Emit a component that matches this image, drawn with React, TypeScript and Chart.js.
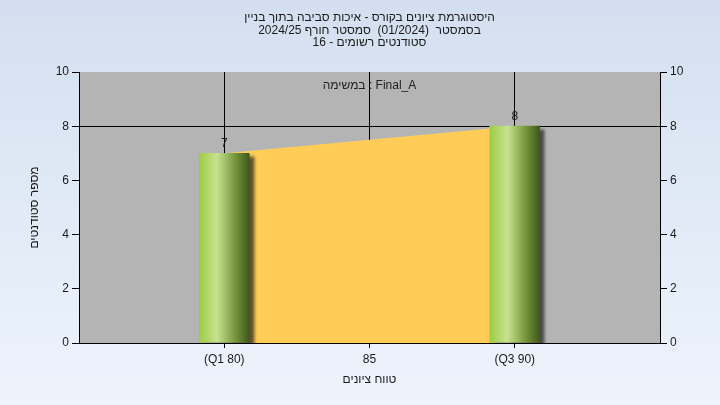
import React, { useEffect, useRef } from "react";
import { Chart, registerables } from "chart.js";

Chart.register(...registerables);

const titleLines = [
  "היסטוגרמת ציונים בקורס - איכות סביבה בתוך בניין",
  "בסמסטר  (01/2024)  סמסטר חורף 2024/25",
  "סטודנטים רשומים - 16",
];
const annotationText = "Final_A : במשימה";
const xAxisTitle = "טווח ציונים";
const yAxisTitle = "מספר סטודנטים";

const grades = [80, 90];
const students = [7, 8];
const xTickValues = [80, 85, 90];
const xTickLabels = ["(Q1 80)", "85", "(Q3 90)"];
const yTickValues = [0, 2, 4, 6, 8, 10];

const FONT = "'Liberation Sans', Arial, sans-serif";
const LRI = "\u2066";
const PDI = "\u2069";
const BAR_W = 50;

export default function App() {
  const ref = useRef<HTMLCanvasElement | null>(null);

  useEffect(() => {
    document.body.style.margin = "0";
    const canvas = ref.current!;
    const points = grades.map((g, i) => ({ x: g, y: students[i] }));

    const bgPlugin = {
      id: "bgPlugin",
      beforeDraw(chart: any) {
        const { ctx, width, height, chartArea } = chart;
        ctx.save();
        const g = ctx.createLinearGradient(0, 0, 0, height);
        g.addColorStop(0, "#d3dff0");
        g.addColorStop(1, "#eef4fc");
        ctx.fillStyle = g;
        ctx.fillRect(0, 0, width, height);
        ctx.fillStyle = "#b4b4b4";
        ctx.fillRect(
          chartArea.left,
          chartArea.top,
          chartArea.right - chartArea.left,
          chartArea.bottom - chartArea.top
        );
        ctx.restore();
      },
      beforeDatasetDraw(chart: any, args: any) {
        if (args.index === 0) {
          const ctx = chart.ctx;
          ctx.save();
          ctx.shadowColor = "rgba(30,30,30,0.7)";
          ctx.shadowOffsetX = 5;
          ctx.shadowOffsetY = 3;
          ctx.shadowBlur = 3;
        }
      },
      afterDatasetDraw(chart: any, args: any) {
        if (args.index === 0) chart.ctx.restore();
      },
      afterDraw(chart: any) {
        const { ctx, chartArea, scales } = chart;
        ctx.save();
        ctx.fillStyle = "#1a1a1a";
        ctx.font = `12px ${FONT}`;
        ctx.textAlign = "center";
        ctx.textBaseline = "middle";
        const cx = (chartArea.left + chartArea.right) / 2;
        titleLines.forEach((t, i) => ctx.fillText(t, cx, 18 + i * 12.5));
        ctx.fillStyle = "#222";
        ctx.fillText(annotationText, scales.x.getPixelForValue(85), chartArea.top + 14);
        ctx.fillStyle = "#1a1a1a";
        grades.forEach((g, i) => {
          ctx.fillText(
            String(students[i]),
            scales.x.getPixelForValue(g),
            scales.y.getPixelForValue(students[i]) - 10
          );
        });
        // axis titles
        ctx.fillText(xAxisTitle, cx, 380);
        ctx.save();
        ctx.translate(35, (chartArea.top + chartArea.bottom) / 2);
        ctx.rotate(-Math.PI / 2);
        ctx.fillText(yAxisTitle, 0, 0);
        ctx.restore();
        ctx.restore();
      },
    };

    const barFill = (c: any) => {
      const chart = c.chart;
      const sx = chart.scales && chart.scales.x;
      if (!sx || c.dataIndex === undefined) return "#9cc850";
      const cxp = sx.getPixelForValue(grades[c.dataIndex]);
      if (!isFinite(cxp)) return "#9cc850";
      const x0 = cxp - BAR_W / 2;
      const g = chart.ctx.createLinearGradient(x0, 0, x0 + BAR_W, 0);
      g.addColorStop(0, "#9ccc44");
      g.addColorStop(0.35, "#c8e290");
      g.addColorStop(0.7, "#789a40");
      g.addColorStop(1, "#40581a");
      return g;
    };

    const chart = new Chart(canvas, {
      data: {
        datasets: [
          {
            type: "bar",
            data: points,
            backgroundColor: barFill as any,
            borderWidth: 0,
            barThickness: BAR_W,
            order: 0,
          },
          {
            type: "line",
            data: points,
            fill: "origin",
            backgroundColor: "#ffcd57",
            borderWidth: 0,
            pointRadius: 0,
            tension: 0,
            order: 1,
          },
        ],
      } as any,
      options: {
        animation: false,
        responsive: false,
        devicePixelRatio: 1,
        layout: { padding: { top: 72, left: 0, right: 0, bottom: 0 } },
        plugins: {
          legend: { display: false },
          tooltip: { enabled: false },
        },
        scales: {
          x: {
            type: "linear",
            min: 75,
            max: 95,
            offset: false,
            afterBuildTicks: (s: any) => {
              s.ticks = xTickValues.map((v) => ({ value: v }));
            },
            afterFit: (s: any) => {
              s.height = 62;
            },
            ticks: {
              color: "#1a1a1a",
              font: { family: FONT, size: 12 },
              padding: 4,
              maxRotation: 0,
              callback: (v: any) => {
                const i = xTickValues.indexOf(Number(v));
                return i >= 0 ? LRI + xTickLabels[i] + PDI : "";
              },
            },
            grid: {
              offset: false,
              color: "#000",
              lineWidth: 1,
              tickLength: 5,
              tickColor: "#000",
            },
            border: { color: "#000", width: 1 },
          },
          y: {
            type: "linear",
            position: "left",
            min: 0,
            max: 10,
            afterBuildTicks: (s: any) => {
              s.ticks = yTickValues.map((v) => ({ value: v }));
            },
            afterFit: (s: any) => {
              s.width = 79;
            },
            ticks: {
              color: "#1a1a1a",
              font: { family: FONT, size: 12 },
              padding: 3,
            },
            grid: {
              color: (c: any) => (c.tick && c.tick.value === 8 ? "#000" : "rgba(0,0,0,0)"),
              tickColor: "#000",
              tickLength: 7,
              lineWidth: 1,
            },
            border: { color: "#000", width: 1 },
          },
          y2: {
            type: "linear",
            position: "right",
            min: 0,
            max: 10,
            afterBuildTicks: (s: any) => {
              s.ticks = yTickValues.map((v) => ({ value: v }));
            },
            afterFit: (s: any) => {
              s.width = 60;
            },
            ticks: {
              color: "#1a1a1a",
              font: { family: FONT, size: 12 },
              padding: 3,
            },
            grid: { drawOnChartArea: false, tickColor: "#000", tickLength: 7 },
            border: { color: "#000", width: 1 },
          },
        },
      } as any,
      plugins: [bgPlugin],
    });

    return () => chart.destroy();
  }, []);

  return (
    <canvas
      ref={ref}
      width={720}
      height={405}
      style={{ display: "block", width: 720, height: 405, direction: "rtl" }}
    />
  );
}
